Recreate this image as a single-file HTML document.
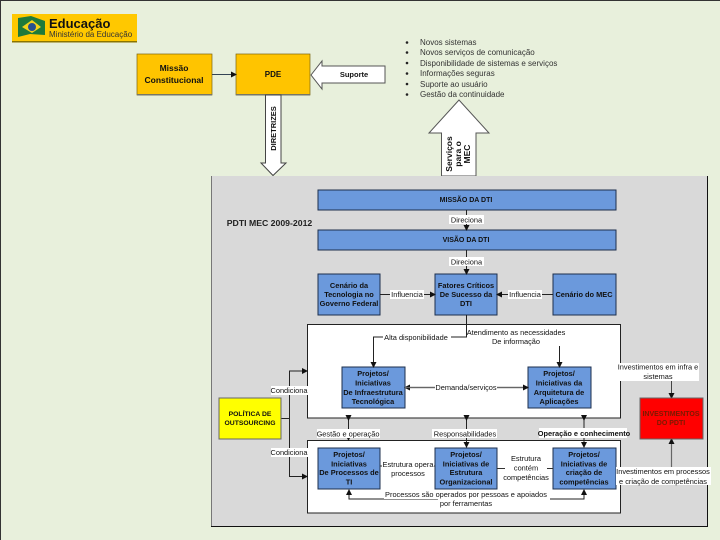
<!DOCTYPE html>
<html><head><meta charset="utf-8"><style>
html,body{margin:0;padding:0;background:#e8f0dc}
svg{display:block;filter:blur(.3px)}
text{font-family:"Liberation Sans",sans-serif;font-size:7.4px;fill:#111;text-anchor:middle}
.b{font-weight:bold}
.l{fill:#fff;stroke:none}
.y{stroke:#7a6410;stroke-width:.7;fill:#ffc400}
.bl{fill:#6b99dc;stroke:#1d2f4d;stroke-width:1}
.c{fill:none;stroke:#222;stroke-width:1}
.g{fill:none;stroke:#666;stroke-width:1.2}
.s{text-anchor:start;font-size:8px;fill:#333}
</style></head><body>
<svg width="720" height="540" viewBox="0 0 720 540" xmlns="http://www.w3.org/2000/svg">
<defs><marker id="a" markerWidth="6" markerHeight="6" refX="5" refY="3" orient="auto" markerUnits="userSpaceOnUse"><path d="M0 0L6 3L0 6Z" fill="#111"/></marker></defs>
<rect width="720" height="540" fill="#e8f0dc"/>
<path d="M0.5 540V0.5H720" fill="none" stroke="#333"/>
<!-- logo -->
<rect x="12" y="14" width="125" height="28" fill="#ffc800"/><rect x="12" y="41" width="125" height="1.500" fill="#8a7400"/>
<path d="M18 18L31 16L45 21V35L30 34L18 37Z" fill="#1f7a3a"/><path d="M22 27L32 20L41 27L32 33Z" fill="#f3d21a"/><circle cx="32" cy="27" r="4" fill="#26508f"/>
<text x="49" y="28" class="b" style="font-size:13px;text-anchor:start">Educação</text>
<text x="49" y="37" style="font-size:8px;text-anchor:start;fill:#333">Ministério da Educação</text>
<!-- top -->
<rect x="137" y="54" width="75" height="41" class="y"/><rect x="137" y="94" width="75" height="1.500" fill="#776"/>
<rect x="236" y="54" width="74" height="41" class="y"/><rect x="236" y="94" width="74" height="1.500" fill="#776"/>
<text x="174" y="71" class="b" style="font-size:8.500px">Missão</text><text x="174" y="83" class="b" style="font-size:8.500px">Constitucional</text>
<text x="273" y="77" class="b" style="font-size:8px">PDE</text>
<line x1="212" y1="74.500" x2="236" y2="74.500" stroke="#345" marker-end="url(#a)"/>
<path d="M311 75L322 61V66H385V83H322V89Z" fill="#fff" stroke="#555"/>
<text x="354" y="77" class="b" style="font-size:7.500px">Suporte</text>
<path d="M265.500 95H281V163H286L273 175.500L261 163H265.500Z" fill="#fff" stroke="#444"/>
<text transform="translate(276,128.500) rotate(-90)" class="b" style="font-size:7.500px">DIRETRIZES</text>
<path d="M441.500 176V133H429L459 100L489 133H476V176Z" fill="#fff" stroke="#555"/>
<text transform="translate(452,154) rotate(-90)" class="b" style="font-size:8.500px">Serviços</text><text transform="translate(461,154) rotate(-90)" class="b" style="font-size:8.500px">para o</text><text transform="translate(470,154) rotate(-90)" class="b" style="font-size:8.500px">MEC</text>
<text x="420" y="45" class="s">Novos sistemas</text>
<text x="420" y="55" class="s">Novos serviços de comunicação</text>
<text x="420" y="66" class="s">Disponibilidade de sistemas e serviços</text>
<text x="420" y="76" class="s">Informações seguras</text>
<text x="420" y="87" class="s">Suporte ao usuário</text>
<text x="420" y="97" class="s">Gestão da continuidade</text>
<g fill="#222"><circle cx="407" cy="42.500" r="1.300"/><circle cx="407" cy="52.500" r="1.300"/><circle cx="407" cy="63" r="1.300"/><circle cx="407" cy="73.500" r="1.300"/><circle cx="407" cy="84" r="1.300"/><circle cx="407" cy="94.500" r="1.300"/></g>
<!-- panel -->
<rect x="211" y="176" width="496" height="350" fill="#d9d9d9"/>
<path d="M211.500 176V526" stroke="#777" fill="none"/><path d="M211 526.500H707.500V176" stroke="#111" fill="none"/>
<text x="269.500" y="226" class="b" style="font-size:8.700px;fill:#222">PDTI MEC 2009-2012</text>
<rect x="307.500" y="324.500" width="313" height="93.500" fill="#fff" stroke="#222"/>
<rect x="307.500" y="440.500" width="313" height="72.500" fill="#fff" stroke="#222"/>
<!-- blue boxes -->
<rect x="318" y="190" width="298" height="20" class="bl"/><rect x="318" y="230" width="298" height="20" class="bl"/>
<text x="466" y="202" class="b" style="font-size:7px">MISSÃO DA DTI</text><text x="466" y="242" class="b" style="font-size:7px">VISÃO DA DTI</text>
<rect x="318" y="274" width="62" height="41" class="bl"/><rect x="435" y="274" width="62" height="41" class="bl"/><rect x="553" y="274" width="63" height="41" class="bl"/>
<rect x="342" y="367" width="63" height="41" class="bl"/><rect x="528" y="367" width="63" height="41" class="bl"/>
<rect x="318" y="448" width="62" height="41" class="bl"/><rect x="435" y="448" width="62" height="41" class="bl"/><rect x="553" y="448" width="63" height="41" class="bl"/>
<!-- connectors -->
<line x1="466.500" y1="210" x2="466.500" y2="230" class="c" marker-end="url(#a)"/>
<line x1="466.500" y1="250" x2="466.500" y2="274" class="c" marker-end="url(#a)"/>
<line x1="380" y1="294.500" x2="435" y2="294.500" class="c" marker-end="url(#a)"/>
<line x1="553" y1="294.500" x2="497" y2="294.500" class="c" marker-end="url(#a)"/>
<path d="M466.500 315V337H373.500V367" class="c" marker-end="url(#a)"/>
<path d="M559.500 346V367" class="c" marker-end="url(#a)"/>
<line x1="528" y1="387.500" x2="405" y2="387.500" class="g" marker-end="url(#a)"/>
<line x1="405" y1="387.500" x2="528" y2="387.500" class="g" marker-end="url(#a)"/>
<path d="M281 418.500H289.500V371H307" class="c" marker-end="url(#a)"/>
<path d="M289.500 418V476.500H307" class="c" marker-end="url(#a)"/>
<line x1="348.500" y1="420" x2="348.500" y2="440" class="c" marker-start="url(#a)" marker-end="url(#a)"/>
<line x1="466.500" y1="420" x2="466.500" y2="447" class="c" marker-start="url(#a)" marker-end="url(#a)"/>
<line x1="584" y1="420" x2="584" y2="447" class="c" marker-start="url(#a)" marker-end="url(#a)"/>
<line x1="380" y1="466" x2="435" y2="466" stroke="#333"/>
<line x1="497" y1="468.500" x2="553" y2="468.500" stroke="#333"/>
<path d="M438 499H349V490" class="c" marker-end="url(#a)"/>
<path d="M550 499H584V490" class="c" marker-end="url(#a)"/>
<line x1="671.500" y1="378" x2="671.500" y2="398" stroke="#444" marker-end="url(#a)"/>
<line x1="671.500" y1="468" x2="671.500" y2="439" stroke="#666" stroke-width="1.200" marker-end="url(#a)"/>
<!-- yellow / red -->
<rect x="219" y="398" width="62" height="41" fill="#ffff00" stroke="#666"/>
<text x="250" y="416" class="b" style="font-size:6.800px">POLÍTICA DE</text><text x="250" y="425" class="b" style="font-size:6.800px">OUTSOURCING</text>
<rect x="640" y="398" width="63" height="41" fill="#ff0000" stroke="#666"/>
<text x="671" y="416" class="b" style="font-size:7px;fill:#7a1a00">INVESTIMENTOS</text><text x="671" y="425" class="b" style="font-size:7px;fill:#7a1a00">DO PDTI</text>
<!-- box labels -->
<g class="b">
<text x="349" y="288">Cenário da</text><text x="349" y="297">Tecnologia no</text><text x="349" y="306">Governo Federal</text>
<text x="466" y="288">Fatores Críticos</text><text x="466" y="297">De Sucesso da</text><text x="466" y="306">DTI</text>
<text x="584" y="297">Cenário do MEC</text>
<text x="373" y="376">Projetos/</text><text x="373" y="385.500">Iniciativas</text><text x="373" y="395">De Infraestrutura</text><text x="373" y="404">Tecnológica</text>
<text x="559" y="376">Projetos/</text><text x="559" y="385.500">Iniciativas da</text><text x="559" y="395">Arquitetura de</text><text x="559" y="404">Aplicações</text>
<text x="349" y="457">Projetos/</text><text x="349" y="466.500">Iniciativas</text><text x="349" y="475">De Processos de</text><text x="349" y="484.500">TI</text>
<text x="466" y="457">Projetos/</text><text x="466" y="466.500">Iniciativas de</text><text x="466" y="475">Estrutura</text><text x="466" y="484.500">Organizacional</text>
<text x="584" y="457">Projetos/</text><text x="584" y="466.500">Iniciativas de</text><text x="584" y="475">criação de</text><text x="584" y="484.500">competências</text>
</g>
<!-- connector labels -->
<rect x="449" y="215" width="35" height="9" class="l"/><text x="466.500" y="222.500">Direciona</text>
<rect x="449" y="257" width="35" height="9" class="l"/><text x="466.500" y="264.500">Direciona</text>
<rect x="390" y="290" width="34" height="9" class="l"/><text x="407" y="297">Influencia</text>
<rect x="508" y="290" width="34" height="9" class="l"/><text x="525" y="297">Influencia</text>
<rect x="383" y="333" width="68" height="9" class="l"/><text x="416" y="340">Alta disponibilidade</text>
<text x="516" y="335">Atendimento as necessidades</text><text x="516" y="344">De informação</text>
<rect x="435" y="383" width="62" height="9" class="l"/><text x="466" y="390">Demanda/serviços</text>
<rect x="271" y="386" width="37" height="9" class="l"/><text x="289" y="393">Condiciona</text>
<rect x="271" y="448" width="37" height="9" class="l"/><text x="289" y="455">Condiciona</text>
<rect x="317" y="429" width="63" height="9" class="l"/><text x="348" y="436.500">Gestão e operação</text>
<rect x="432" y="429" width="65" height="9" class="l"/><text x="465" y="436.500">Responsabilidades</text>
<rect x="539" y="428" width="88" height="10" class="l"/><text x="584" y="436" class="b">Operação e conhecimento</text>
<rect x="382" y="460" width="52" height="18" class="l"/><text x="408" y="467">Estrutura opera</text><text x="408" y="476">processos</text>
<rect x="505" y="454" width="42" height="28" class="l"/><text x="526" y="461">Estrutura</text><text x="526" y="470.500">contém</text><text x="526" y="480">competências</text>
<rect x="384" y="490" width="165" height="9" class="l"/><text x="466" y="497">Processos são operados por pessoas e apoiados</text><text x="466" y="506">por ferramentas</text>
<rect x="617" y="363" width="82" height="18" class="l"/><text x="658" y="369.500">Investimentos em infra e</text><text x="658" y="379">sistemas</text>
<rect x="616" y="467" width="95" height="18" class="l"/><text x="663" y="474">Investimentos em processos</text><text x="663" y="484">e criação de competências</text>
</svg>
</body></html>
